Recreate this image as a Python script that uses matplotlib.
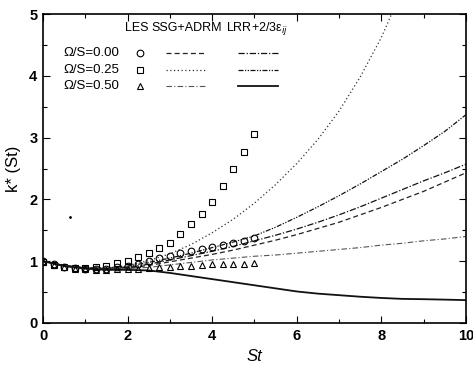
import numpy as np
import matplotlib
matplotlib.use("Agg")
import matplotlib.pyplot as plt
from matplotlib.ticker import MultipleLocator

plt.rcParams['font.family'] = ['Liberation Sans', 'DejaVu Sans']

# LES data (St every 0.25 from 0 to 5)
st_les = [0.0, 0.25, 0.5, 0.75, 1.0, 1.25, 1.5, 1.75, 2.0, 2.25, 2.5,
          2.75, 3.0, 3.25, 3.5, 3.75, 4.0, 4.25, 4.5, 4.75, 5.0]
les_000 = [1.00, 0.95, 0.91, 0.89, 0.88, 0.88, 0.88, 0.90, 0.93, 0.96, 1.01,
           1.05, 1.08, 1.13, 1.17, 1.20, 1.23, 1.26, 1.29, 1.33, 1.37]
les_025 = [0.98, 0.94, 0.91, 0.89, 0.89, 0.91, 0.93, 0.97, 1.01, 1.07, 1.14,
           1.21, 1.29, 1.44, 1.60, 1.77, 1.96, 2.22, 2.49, 2.77, 3.06]
les_050 = [0.98, 0.94, 0.90, 0.88, 0.87, 0.86, 0.86, 0.87, 0.87, 0.88, 0.89,
           0.90, 0.91, 0.92, 0.93, 0.94, 0.95, 0.95, 0.96, 0.96, 0.97]

# model curves (St every 0.5 from 0 to 10)
st_model = [0.0, 0.5, 1.0, 1.5, 2.0, 2.5, 3.0, 3.5, 4.0, 4.5, 5.0,
            5.5, 6.0, 6.5, 7.0, 7.5, 8.0, 8.5, 9.0, 9.5, 10.0]
ssg_000 = [1.00, 0.93, 0.89, 0.88, 0.89, 0.93, 0.99, 1.05, 1.11, 1.18, 1.26,
           1.34, 1.43, 1.53, 1.63, 1.75, 1.87, 2.00, 2.13, 2.28, 2.43]
lrr_000 = [1.00, 0.93, 0.89, 0.88, 0.90, 0.95, 1.02, 1.09, 1.16, 1.24, 1.33,
           1.42, 1.52, 1.63, 1.75, 1.88, 2.02, 2.16, 2.30, 2.43, 2.57]
ssg_025 = [1.00, 0.93, 0.89, 0.89, 0.93, 1.01, 1.12, 1.27, 1.46, 1.68, 1.94,
           2.24, 2.58, 2.97, 3.43, 3.98, 4.62, 5.40, 6.30, 7.30, 8.40]
lrr_025 = [1.00, 0.93, 0.89, 0.89, 0.92, 0.98, 1.05, 1.13, 1.22, 1.31, 1.41,
           1.55, 1.71, 1.88, 2.06, 2.25, 2.45, 2.65, 2.87, 3.10, 3.37]
ssg_050 = [1.00, 0.93, 0.88, 0.87, 0.88, 0.90, 0.94, 0.98, 1.02, 1.05, 1.08,
           1.10, 1.13, 1.16, 1.19, 1.22, 1.26, 1.29, 1.33, 1.36, 1.40]
lrr_050 = [1.00, 0.92, 0.88, 0.86, 0.86, 0.85, 0.81, 0.76, 0.71, 0.66, 0.61,
           0.56, 0.51, 0.475, 0.45, 0.425, 0.405, 0.39, 0.385, 0.378, 0.37]

stray_st = [0.64]
stray_k = [1.71]

row_labels = ['Ω/S=0.00', 'Ω/S=0.25', 'Ω/S=0.50']

fig = plt.figure(figsize=(4.73, 3.69), dpi=100)
ax = fig.add_axes([0.091, 0.1247, 0.894, 0.8373])

ls_ssg = [(0, (4, 2.5)), (0, (1, 2)), (0, (5, 2, 1, 2))]
ls_lrr = [(0, (5, 1.5, 1, 1.5)), (0, (4, 1.2, 1, 1.2, 1, 1.2)), '-']
ssg = [ssg_000, ssg_025, ssg_050]
lrr = [lrr_000, lrr_025, lrr_050]
les = [les_000, les_025, les_050]
markers = ['o', 's', '^']
lw_ssg = [0.9, 0.9, 0.8]
lw_lrr = [0.9, 0.9, 1.3]
col_ssg = ['#222222', '#333333', '#555555']

for i in range(3):
    ax.plot(st_model, ssg[i], color=col_ssg[i], lw=lw_ssg[i], ls=ls_ssg[i])
    ax.plot(st_model, lrr[i], color='#111111', lw=lw_lrr[i], ls=ls_lrr[i])
    ax.plot(st_les, les[i], ls='none', marker=markers[i], ms=4.8 if i != 1 else 4.3,
            mfc='none', mec='black', mew=0.8)

ax.plot(stray_st, stray_k, ls='none', marker='.', ms=2, color='black')

ax.set_xlim(0, 10)
ax.set_ylim(0, 5)
ax.xaxis.set_major_locator(MultipleLocator(2))
ax.xaxis.set_minor_locator(MultipleLocator(1))
ax.yaxis.set_major_locator(MultipleLocator(1))
ax.yaxis.set_minor_locator(MultipleLocator(0.5))
ax.tick_params(which='both', direction='in', top=True, right=True,
               labelsize=10.5, width=0.8, pad=4)
ax.tick_params(which='major', length=5)
ax.tick_params(which='minor', length=3)
for lab in ax.get_xticklabels() + ax.get_yticklabels():
    lab.set_fontweight('bold')
for s in ax.spines.values():
    s.set_linewidth(1.2)

ax.set_xlabel('St', fontsize=12, style='italic', labelpad=5)
ax.set_ylabel('k* (St)', fontsize=12, labelpad=6)

# legend drawn manually (axes coordinates)
T = ax.transAxes
def ax_x(px):
    return (px - 43) / 423.0
def ax_y(py):
    return (323 - py) / 309.0

hdr_fs = 9.0
ax.text(ax_x(137), ax_y(28), 'LES', transform=T, fontsize=hdr_fs, ha='center', va='center')
ax.text(ax_x(151), ax_y(28), 'SSG+ADRM', transform=T, fontsize=hdr_fs, ha='left', va='center')
ax.text(ax_x(226), ax_y(28), 'LRR+2/3ε$_{ij}$', transform=T, fontsize=hdr_fs,
        ha='left', va='center')
rows_y = [53, 70, 86]
for i in range(3):
    yy = ax_y(rows_y[i])
    ax.text(ax_x(63), yy, row_labels[i], transform=T, fontsize=9.5, ha='left', va='center')
    ax.plot([ax_x(140)], [yy], transform=T, ls='none', marker=markers[i],
            ms=4.8 if i != 1 else 4.3, mfc='none', mec='black', mew=0.8, clip_on=False)
    ax.plot([ax_x(166), ax_x(205)], [yy, yy], transform=T, color=col_ssg[i],
            lw=lw_ssg[i], ls=ls_ssg[i])
    ax.plot([ax_x(238), ax_x(278)], [yy, yy], transform=T, color='#111111',
            lw=lw_lrr[i], ls=ls_lrr[i])

fig.savefig('out.png', dpi=100)
